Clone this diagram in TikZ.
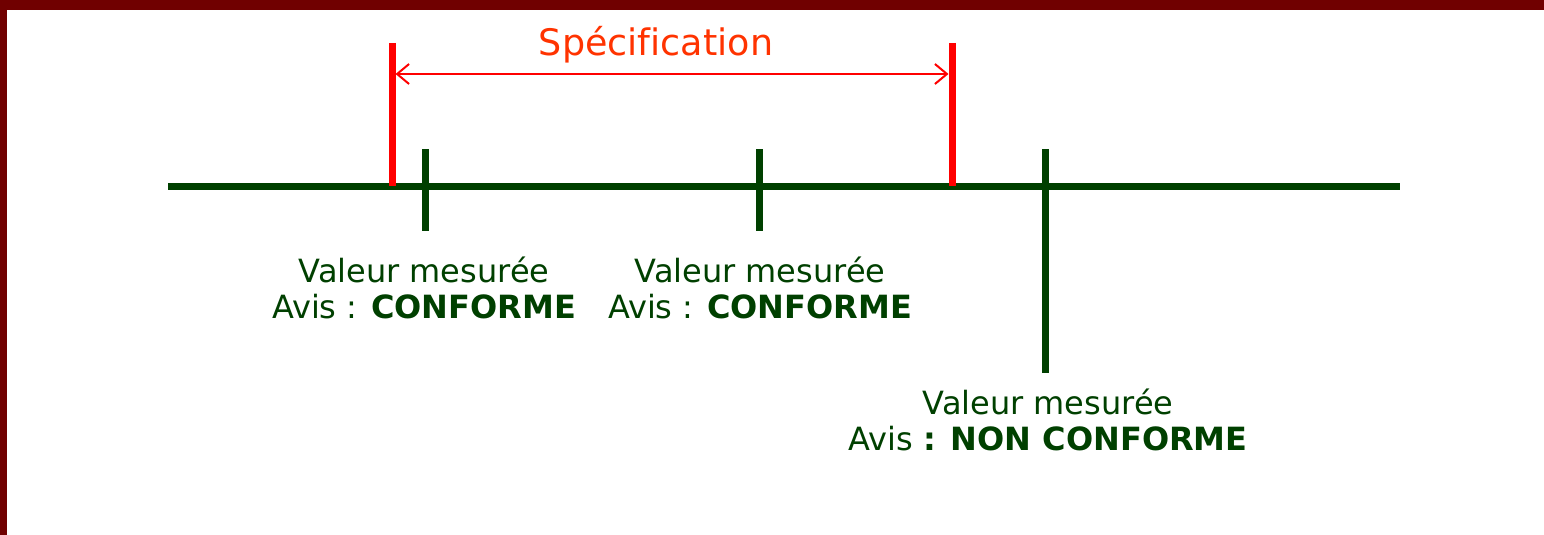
\documentclass[tikz,border=0pt]{standalone}
\usepackage{fontspec}
\setmainfont[Ligatures=NoCommon]{DejaVu Sans}
\usetikzlibrary{arrows.meta}
\definecolor{frame}{RGB}{112,0,0}
\definecolor{dgreen}{RGB}{0,64,0}
\definecolor{specred}{RGB}{255,51,0}
\definecolor{tickred}{RGB}{255,0,0}
\tikzset{
  axisline/.style={draw=dgreen, line width=7pt},
  greentick/.style={draw=dgreen, line width=7pt},
  redtick/.style={draw=tickred, line width=7pt},
  specarrow/.style={draw=tickred, line width=2pt, {Straight Barb[length=12pt,width=20pt,line width=2pt]}-{Straight Barb[length=12pt,width=20pt,line width=2pt]}},
  label/.style={text=dgreen, align=center, font=\fontsize{32}{36}\selectfont, inner sep=0pt},
  spectext/.style={text=specred, font=\fontsize{36.5}{40}\selectfont, inner sep=0pt}
}
\begin{document}
\begin{tikzpicture}[x=1pt,y=-1pt]
\useasboundingbox (0,0) rectangle (1544,535);
\fill[white] (0,0) rectangle (1544,535);
\fill[frame] (0,0) rectangle (1544,10);
\fill[frame] (0,0) rectangle (7,535);
% axis
\coordinate (axL) at (168,186);
\coordinate (axR) at (1400,186);
\draw[axisline] (axL) -- (axR);
% red spec ticks
\coordinate (r1top) at (392,43);
\coordinate (r1bot) at (392,186);
\coordinate (r2top) at (952,43);
\coordinate (r2bot) at (952,186);
\draw[redtick] (r1top) -- (r1bot);
\draw[redtick] (r2top) -- (r2bot);
\coordinate (aL) at (395.5,74);
\coordinate (aR) at (948.5,74);
\draw[specarrow] (aL) -- (aR);
\node[spectext] (spec) at (656,45) {Spécification};
% green ticks
\coordinate (g1top) at (425,149);
\coordinate (g1bot) at (425,231);
\coordinate (g2top) at (759,149);
\coordinate (g2bot) at (759,231);
\coordinate (g3top) at (1045,149);
\coordinate (g3bot) at (1045,373);
\draw[greentick] (g1top) -- (g1bot);
\draw[greentick] (g2top) -- (g2bot);
\draw[greentick] (g3top) -- (g3bot);
% labels
\node[label] (l1) at (424,288) {Valeur mesurée\\Avis : \textbf{CONFORME}};
\node[label] (l2) at (760,288) {Valeur mesurée\\Avis : \textbf{CONFORME}};
\node[label] (l3) at (1048,420) {Valeur mesurée\\Avis \textbf{: NON CONFORME}};
\end{tikzpicture}
\end{document}
